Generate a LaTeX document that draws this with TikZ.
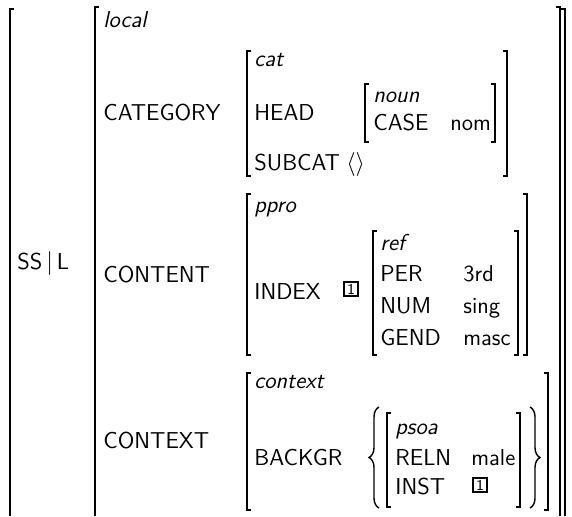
\documentclass[tikz,border=0pt]{standalone}
\usetikzlibrary{decorations.pathreplacing}

\tikzset{
  attr/.style={anchor=base west, inner sep=0pt},
  sort/.style={attr, font=\fontsize{11.5}{13}\selectfont\sffamily\itshape},
  tagbox/.style={draw, line width=0.9pt, inner sep=0pt, minimum size=7pt,
    font=\fontsize{7.5}{7.5}\selectfont\sffamily},
  brk/.style={line width=0.7pt},
  brc/.style={line width=0.7pt, decorate, decoration={brace, amplitude=5pt}}
}
% square brackets: x, top, bottom
\newcommand{\lbrk}[3]{\draw[brk] (#1+4,#2) -- (#1,#2) -- (#1,#3) -- (#1+4,#3);}
\newcommand{\rbrk}[3]{\draw[brk] (#1-4,#2) -- (#1,#2) -- (#1,#3) -- (#1-4,#3);}

\begin{document}
\begin{tikzpicture}[x=0.5pt, y=-0.5pt, font=\fontsize{11.5}{13}\selectfont\sffamily]
  \useasboundingbox (0,0) rectangle (572,516);

  % outermost matrix and the local one (open at the bottom)
  \draw[brk] (14,9) -- (10,9) -- (10,516);
  \draw[brk] (561,9) -- (565,9) -- (565,516);
  \draw[brk] (99,7) -- (95,7) -- (95,516);
  \draw[brk] (556,7) -- (560,7) -- (560,516);

  \node[attr] (ssl) at (17,269) {SS\,$|$\,L};
  \node[sort] (local) at (103,27) {local};
  \node[attr] (category) at (103,120) {CATEGORY};
  \node[attr] (content) at (103,282) {CONTENT};
  \node[attr] (context) at (103,448) {CONTEXT};

  % CATEGORY value
  \lbrk{247}{51}{176}
  \rbrk{507}{51}{176}
  \node[sort] (cat) at (254,66) {cat};
  \node[attr] (head) at (254,120) {HEAD};
  \node[attr] (subcat) at (254,170) {SUBCAT};
  \node[attr] (subcatval) at (346,170) {$\langle\rangle$};
  \lbrk{365}{84}{142}
  \rbrk{495}{84}{142}
  \node[sort] (noun) at (373,102) {noun};
  \node[attr] (case) at (373,130) {CASE};
  \node[attr] (caseval) at (450,130) {nom};

  % CONTENT value
  \lbrk{247}{194}{355}
  \rbrk{527}{194}{355}
  \node[sort] (ppro) at (254,212) {ppro};
  \node[attr] (index) at (254,299) {INDEX};
  \node[tagbox] (indextag) at (351,289) {1};
  \lbrk{373}{231}{355}
  \rbrk{518}{231}{355}
  \node[sort] (ref) at (380,250) {ref};
  \node[attr] (per) at (380,281) {PER};
  \node[attr] (perval) at (463,281) {3rd};
  \node[attr] (num) at (380,313) {NUM};
  \node[attr] (numval) at (463,313) {sing};
  \node[attr] (gend) at (380,345) {GEND};
  \node[attr] (gendval) at (463,345) {masc};

  % CONTEXT value
  \lbrk{247}{373}{510}
  \rbrk{548}{373}{510}
  \node[sort] (ctx) at (254,388) {context};
  \node[attr] (backgr) at (254,465) {BACKGR};
  \draw[brc] (379,508) -- (379,407);
  \draw[brc] (530,407) -- (530,508);
  \lbrk{387}{413}{507}
  \rbrk{520}{413}{507}
  \node[sort] (psoa) at (395,434) {psoa};
  \node[attr] (reln) at (395,465) {RELN};
  \node[attr] (relnval) at (471,465) {male};
  \node[attr] (inst) at (395,494) {INST};
  \node[tagbox] (insttag) at (480,485) {1};
\end{tikzpicture}
\end{document}
